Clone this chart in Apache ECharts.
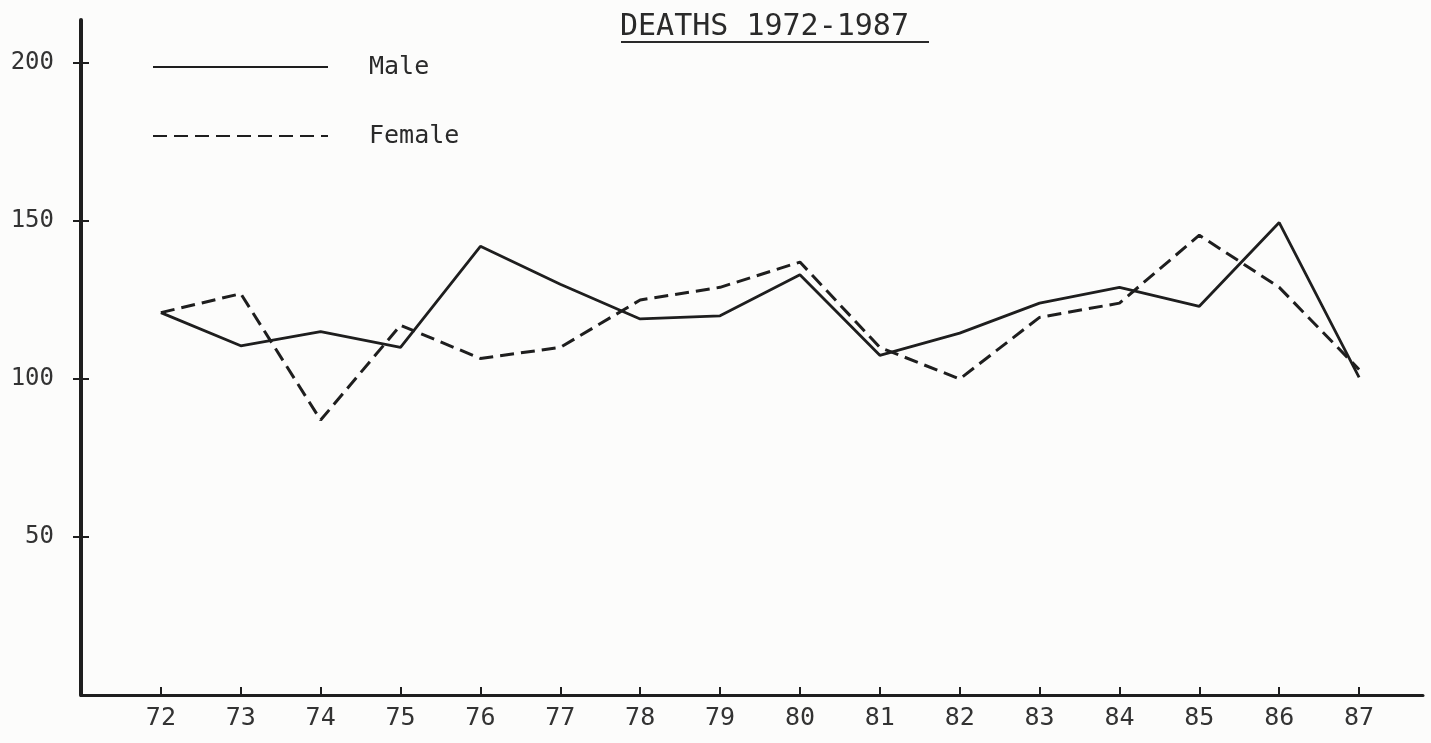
<!DOCTYPE html>
<html>
<head>
<meta charset="utf-8">
<script src="https://cdn.jsdelivr.net/npm/echarts@6/dist/echarts.min.js"></script>
<style>
  html, body { margin: 0; padding: 0; background: #fcfcfb; }
  #chart { width: 1431px; height: 743px; }
</style>
</head>
<body>
<div id="chart"></div>
<script>
// ---- data ----
var years = [72, 73, 74, 75, 76, 77, 78, 79, 80, 81, 82, 83, 84, 85, 86, 87];
var male = [121, 110.5, 115, 110, 142, 130, 119, 120, 133, 107.5, 114.5, 124, 129, 123, 149.5, 100.5];
var female = [121, 127, 87, 117, 106.5, 110, 125, 129, 137, 110, 100, 119.5, 124, 145.5, 129, 103];
var yTicks = [50, 100, 150, 200];
var titleText = 'DEATHS 1972-1987';
var seriesNames = ['Male', 'Female'];

function pairs(vals) { return years.map(function (y, i) { return [y, vals[i]]; }); }

var FONT = 'DejaVu Sans Mono';
var INK = '#1e1e1e';

var chart = echarts.init(document.getElementById('chart'), null, { renderer: 'canvas' });
chart.setOption({
  backgroundColor: '#fcfcfb',
  animation: false,
  title: {
    text: titleText,
    left: 620,
    top: 12,
    padding: 0,
    textStyle: { fontFamily: FONT, fontSize: 30, fontWeight: 'normal', color: '#2a2a2a' }
  },
  graphic: [{
    type: 'line',
    shape: { x1: 621, y1: 42, x2: 929, y2: 42 },
    style: { stroke: '#2a2a2a', lineWidth: 2 }
  }],
  legend: {
    orient: 'vertical',
    left: 152,
    top: 51,
    padding: 0,
    itemWidth: 175,
    itemHeight: 28,
    itemGap: 37,
    itemStyle: { opacity: 0 },
    textStyle: { fontFamily: FONT, fontSize: 25, color: '#2a2a2a', lineHeight: 28, padding: [0, 0, 4, 36] },
    data: seriesNames
  },
  grid: { left: 81, right: 8, top: 20, bottom: 48, containLabel: false },
  xAxis: {
    type: 'value',
    min: 71,
    max: 87.8,
    interval: 1,
    splitLine: { show: false },
    axisLine: { lineStyle: { color: INK, width: 3 } },
    axisTick: { inside: true, length: 8, lineStyle: { color: INK, width: 2 }, customValues: years },
    axisLabel: { customValues: years, margin: 11, fontFamily: FONT, fontSize: 25, color: '#333' }
  },
  yAxis: [{
    type: 'value',
    min: 0,
    max: 213.6,
    position: 'left',
    splitLine: { show: false },
    axisLine: { show: true, lineStyle: { color: INK, width: 4 } },
    axisTick: { show: true, length: 8, lineStyle: { color: INK, width: 2 }, customValues: yTicks },
    axisLabel: { customValues: yTicks, margin: 27, fontFamily: FONT, fontSize: 24, color: '#333' }
  }, {
    type: 'value',
    min: 0,
    max: 213.6,
    position: 'left',
    splitLine: { show: false },
    axisLine: { show: false },
    axisTick: { show: true, inside: true, length: 8, lineStyle: { color: INK, width: 2 }, customValues: yTicks },
    axisLabel: { show: false }
  }],
  series: [{
    name: seriesNames[0],
    type: 'line',
    data: pairs(male),
    symbol: 'none',
    lineStyle: { color: INK, width: 2.8, type: 'solid' },
    itemStyle: { color: INK }
  }, {
    name: seriesNames[1],
    type: 'line',
    data: pairs(female),
    symbol: 'none',
    lineStyle: { color: INK, width: 3, type: [14, 7] },
    itemStyle: { color: INK }
  }]
});
</script>
</body>
</html>
